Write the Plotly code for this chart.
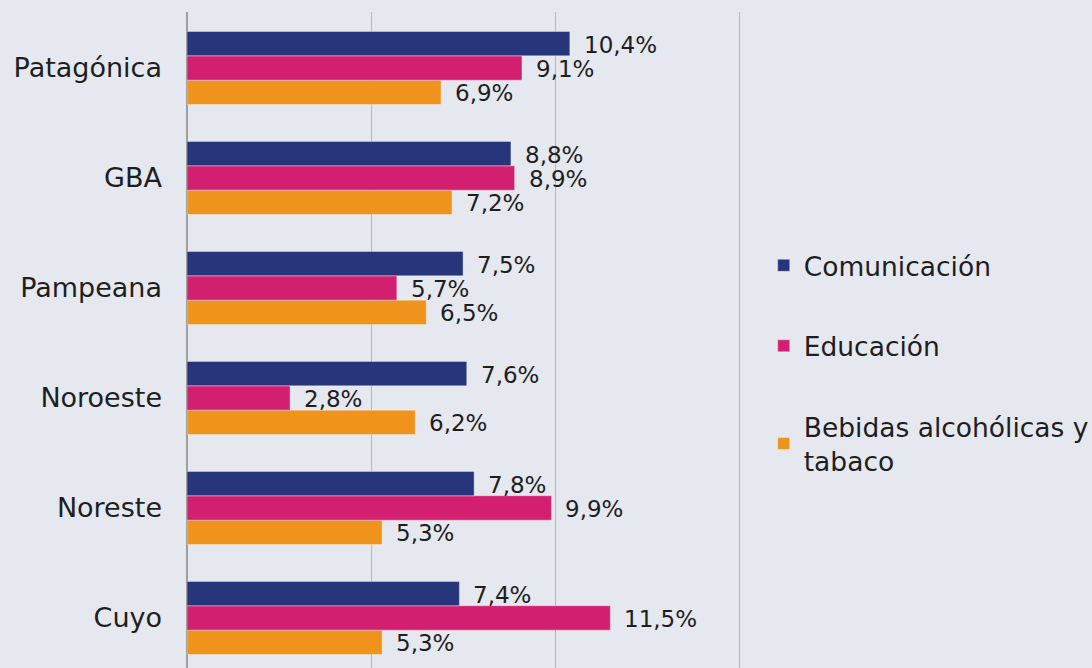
import plotly.graph_objects as go

regiones = ["Cuyo", "Noreste", "Noroeste", "Pampeana", "GBA", "Patagónica"]
comunicacion = [7.4, 7.8, 7.6, 7.5, 8.8, 10.4]
educacion = [11.5, 9.9, 2.8, 5.7, 8.9, 9.1]
bebidas = [5.3, 5.3, 6.2, 6.5, 7.2, 6.9]

series = [
    ("Bebidas alcohólicas y<br>tabaco", bebidas, "#F0931D", 3),
    ("Educación", educacion, "#D31F6F", 2),
    ("Comunicación", comunicacion, "#27367A", 1),
]

FONT = "DejaVu Sans"
TXT = "#1E1E1E"
BARGAP = 0.336
w = (1 - BARGAP) / 3

fig = go.Figure()
annotations = []
for i, (name, vals, color, rank) in enumerate(series):
    fig.add_trace(go.Bar(
        y=regiones, x=vals, name=name, orientation="h",
        marker=dict(color=color, line=dict(color="rgba(255,255,255,0.35)", width=1)),
        legendgroup=name, legendrank=rank,
    ))
    off = (i - 1) * w
    for j, v in enumerate(vals):
        annotations.append(dict(
            x=v, y=j + off, xref="x", yref="y",
            text=f"{v:.1f}%".replace(".", ","),
            showarrow=False, xanchor="left", yanchor="middle",
            xshift=12, yshift=-1,
            font=dict(family=FONT, size=23, color=TXT),
        ))

fig.update_layout(
    width=1092, height=668,
    barmode="group", bargap=BARGAP, bargroupgap=0,
    paper_bgcolor="#E5E8EF", plot_bgcolor="#E5E8EF",
    margin=dict(l=187, r=351, t=12, b=0, autoexpand=False),
    font=dict(family=FONT, size=27, color=TXT),
    annotations=annotations,
    legend=dict(
        traceorder="grouped", tracegroupgap=43,
        x=1.041, xanchor="left", y=0.65, yanchor="top",
        font=dict(family=FONT, size=26.5, color=TXT),
        itemwidth=30, bgcolor="rgba(0,0,0,0)",
    ),
    showlegend=True,
)
fig.update_xaxes(range=[0, 15.05], dtick=5, showgrid=True, gridcolor="#B8B8B8", gridwidth=1,
                 zeroline=True, zerolinecolor="#A0A0A0", zerolinewidth=1.5,
                 showticklabels=False, fixedrange=True, automargin=False)
fig.update_yaxes(categoryorder="array", categoryarray=regiones, range=[-0.455, 5.509],
                 showgrid=False, ticklabelstandoff=24, automargin=False,
                 tickfont=dict(family=FONT, size=27, color=TXT))

fig.write_html("out.html", config={"displayModeBar": False},
               post_script="document.body.style.margin='0';document.body.style.background='#E5E8EF';")
